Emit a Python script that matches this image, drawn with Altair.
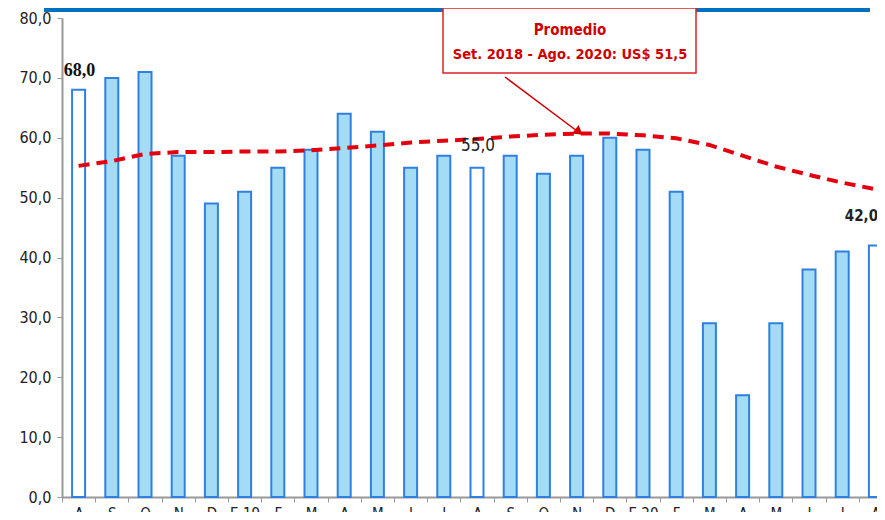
import altair as alt
import pandas as pd

# ---- data ----
month_labels = ["A", "S", "O", "N", "D", "E 19", "F", "M", "A", "M", "J", "J",
                "A", "S", "O", "N", "D", "E 20", "F", "M", "A", "M", "J", "J", "A"]
prices = [68, 70, 71, 57, 49, 51, 55, 58, 64, 61, 55, 57,
          55, 57, 54, 57, 60, 58, 51, 29, 17, 29, 38, 41, 42]
trend = [55.3, 56.1, 57.3, 57.6, 57.6, 57.7, 57.7, 57.9, 58.3, 58.7, 59.2, 59.5,
         59.8, 60.2, 60.5, 60.7, 60.7, 60.4, 59.9, 58.8, 57.0, 55.2, 53.8, 52.5, 51.4]
highlight = [True, False, False, False, False, False, False, False, False, False, False, False,
             True, False, False, False, False, False, False, False, False, False, False, False, True]
value_labels = ["68,0", "55,0", "42,0"]
label_idx = [0, 12, 24]
label_y = [71.2, 58.7, 47.0]
box_line1 = "Promedio"
box_line2 = "Set. 2018 - Ago. 2020: US$ 51,5"

df = pd.DataFrame({
    "i": list(range(len(prices))),
    "price": prices,
    "trend": trend,
    "fill": ["white" if h else "#A3DCF4" for h in highlight],
})
lab_df = pd.DataFrame({"i": label_idx, "y": label_y, "txt": value_labels})

NARROW = "Liberation Sans Narrow, DejaVu Sans Condensed, Arial Narrow, sans-serif"
label_expr = "[" + ",".join("'" + m + "'" for m in month_labels) + "][datum.value]"

W, H = 815, 479
xscale = alt.Scale(range=[0, 830], paddingInner=0, paddingOuter=0)
yscale = alt.Scale(domain=[0, 80], nice=False)

x_enc = alt.X("i:O", scale=xscale, sort=None, axis=alt.Axis(
    title=None, labelExpr=label_expr, labelAngle=0, labelFont=NARROW,
    labelFontSize=15, labelColor="#222", domainColor="#999", domainWidth=2,
    tickColor="#999", tickSize=5, tickBand="extent", labelPadding=4, grid=False))

bars = alt.Chart(df).mark_bar(size=13, stroke="#2F80E0", strokeWidth=2).encode(
    x=x_enc,
    y=alt.Y("price:Q", scale=yscale, axis=alt.Axis(
        title=None, values=[0, 10, 20, 30, 40, 50, 60, 70, 80], format=".1f",
        labelExpr="replace(datum.label, '.', ',')", labelFont=NARROW,
        labelFontSize=16, labelColor="#222", domainColor="#999", domainWidth=2,
        tickColor="#999", tickSize=5, labelPadding=6, grid=False)),
    fill=alt.Fill("fill:N", scale=None),
)

line = alt.Chart(df).mark_line(color="#E3000F", strokeWidth=4, strokeDash=[11, 7]).encode(
    x=alt.X("i:O", scale=xscale, sort=None),
    y=alt.Y("trend:Q", scale=yscale),
)

lab1 = alt.Chart(lab_df.iloc[[0]]).mark_text(
    font="Liberation Serif, DejaVu Serif, serif", fontWeight="bold", fontSize=18,
    color="#111", dx=1).encode(x=alt.X("i:O", scale=xscale, sort=None),
                               y=alt.Y("y:Q", scale=yscale), text="txt:N")
lab2 = alt.Chart(lab_df.iloc[[1]]).mark_text(
    font=NARROW, fontSize=17, color="#222", dx=1).encode(
    x=alt.X("i:O", scale=xscale, sort=None), y=alt.Y("y:Q", scale=yscale), text="txt:N")
lab3 = alt.Chart(lab_df.iloc[[2]]).mark_text(
    font=NARROW, fontWeight="bold", fontSize=15, color="#222", dx=-14).encode(
    x=alt.X("i:O", scale=xscale, sort=None), y=alt.Y("y:Q", scale=yscale), text="txt:N")

# decorations / annotation (pixel placed)
topbar = alt.Chart(pd.DataFrame({"a": [0]})).mark_rule(color="#0070C0", strokeWidth=4).encode(
    x=alt.value(-18), x2=alt.value(808), y=alt.value(-8))
box = alt.Chart(pd.DataFrame({"a": [0]})).mark_rect(
    fill="white", stroke="#E02020", strokeWidth=1.5).encode(
    x=alt.value(381), x2=alt.value(634), y=alt.value(-10), y2=alt.value(55))
t1 = alt.Chart(pd.DataFrame({"t": [box_line1]})).mark_text(
    font=NARROW, fontWeight="bold", fontSize=15, color="#D00000").encode(
    x=alt.value(508), y=alt.value(12), text="t:N")
t2 = alt.Chart(pd.DataFrame({"t": [box_line2]})).mark_text(
    font=NARROW, fontWeight="bold", fontSize=14.5, color="#D00000").encode(
    x=alt.value(508), y=alt.value(37), text="t:N")
arrow = alt.Chart(pd.DataFrame({"a": [0]})).mark_rule(color="#D00000", strokeWidth=1.5).encode(
    x=alt.value(443), x2=alt.value(519), y=alt.value(59), y2=alt.value(116))
head = alt.Chart(pd.DataFrame({"a": [0]})).mark_point(
    shape="triangle-up", filled=True, color="#D00000", size=110, angle=127, opacity=1).encode(
    x=alt.value(517), y=alt.value(114))

chart = alt.layer(topbar, bars, line, lab1, lab2, lab3, box, t1, t2, arrow, head).properties(
    width=W, height=H,
    background="white",
    autosize=alt.AutoSizeParams(type="none"),
    padding={"left": 54, "top": 10, "right": 0, "bottom": 15},
).configure_axis(grid=False).configure_view(
    stroke="transparent", strokeWidth=0, clip=False
)

chart.save("out.html", embed_options={"renderer": "svg", "actions": False})
